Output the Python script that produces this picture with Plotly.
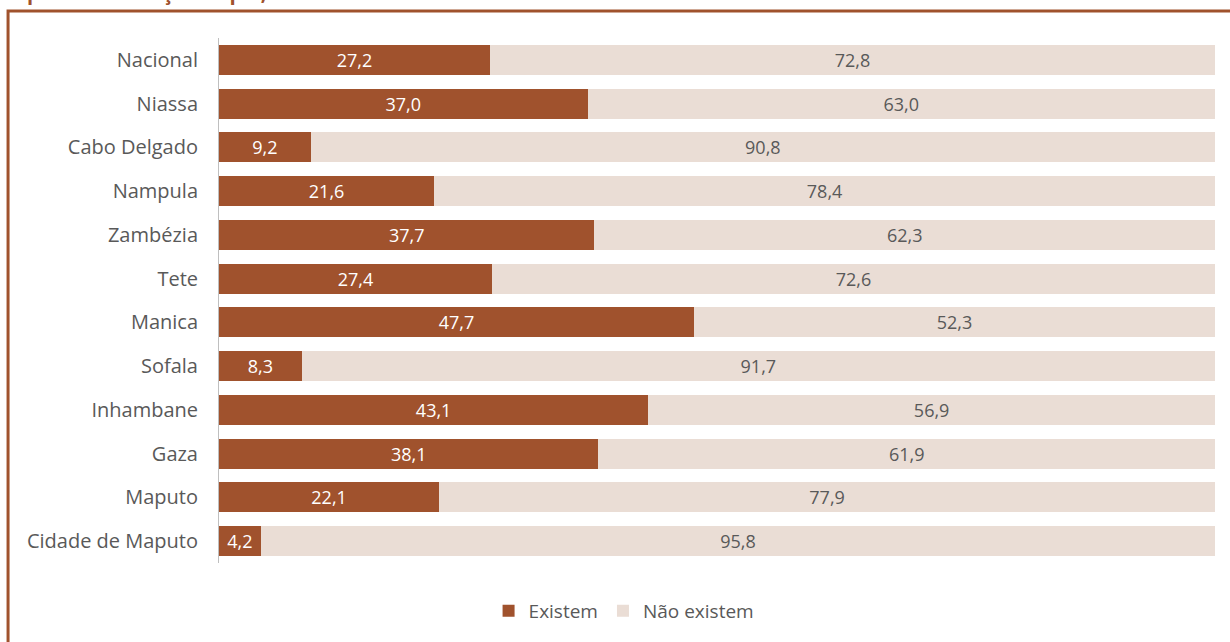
import plotly.graph_objects as go

categories = ["Nacional", "Niassa", "Cabo Delgado", "Nampula", "Zambézia", "Tete",
              "Manica", "Sofala", "Inhambane", "Gaza", "Maputo", "Cidade de Maputo"]
existem = [27.2, 37.0, 9.2, 21.6, 37.7, 27.4, 47.7, 8.3, 43.1, 38.1, 22.1, 4.2]
nao_existem = [72.8, 63.0, 90.8, 78.4, 62.3, 72.6, 52.3, 91.7, 56.9, 61.9, 77.9, 95.8]
title_text = "província. Moçambique, 2022"

DARK = "#A0522D"
LIGHT = "#EADDD5"
GREY = "#595959"
FONT = "Open Sans, Liberation Sans, sans-serif"

def fmt(v):
    return f"{v:.1f}".replace(".", ",")

fig = go.Figure()
fig.add_trace(go.Bar(
    y=categories, x=existem, orientation="h", name="Existem",
    marker=dict(color=DARK, line=dict(width=0)),
    text=[fmt(v) for v in existem], textposition="inside", insidetextanchor="middle",
    textfont=dict(color="white", size=18, family=FONT),
))
fig.add_trace(go.Bar(
    y=categories, x=nao_existem, orientation="h", name="Não existem",
    marker=dict(color=LIGHT, line=dict(width=0)),
    text=[fmt(v) for v in nao_existem], textposition="inside", insidetextanchor="middle",
    textfont=dict(color=GREY, size=18, family=FONT),
))

fig.update_layout(
    width=1230, height=642,
    barmode="stack", bargap=0.31,
    plot_bgcolor="white", paper_bgcolor="white",
    margin=dict(l=219, r=15, t=38, b=79),
    font=dict(family=FONT, color=GREY, size=19),
    uniformtext=dict(mode="show", minsize=10),
    xaxis=dict(range=[0, 100], showgrid=False, showticklabels=False, zeroline=False,
               showline=False, fixedrange=True),
    yaxis=dict(autorange="reversed", showgrid=False, showline=True, linecolor="#BFBFBF",
               linewidth=1, ticks="", ticklabelstandoff=16,
               tickfont=dict(size=20, color=GREY, family=FONT)),
    legend=dict(orientation="h", x=0.4067, xanchor="center", y=-0.0914, yanchor="middle",
                font=dict(size=19, color=GREY, family=FONT), traceorder="normal",
                itemwidth=30),
    shapes=[dict(type="rect", xref="paper", yref="paper",
                 x0=-0.2118, x1=1.0201, y0=-0.1657, y1=1.0514,
                 line=dict(color=DARK, width=3), fillcolor="rgba(0,0,0,0)", layer="below")],
    annotations=[dict(text=f"<b>{title_text}</b>", xref="paper", yref="paper",
                      x=-0.1948, y=1.0575, xanchor="left", yanchor="bottom",
                      showarrow=False, font=dict(size=20, color=DARK, family=FONT))],
)

fig.write_html("out.html", config={"displayModeBar": False},
               post_script="document.body.style.margin='0';document.body.style.overflow='hidden';")
